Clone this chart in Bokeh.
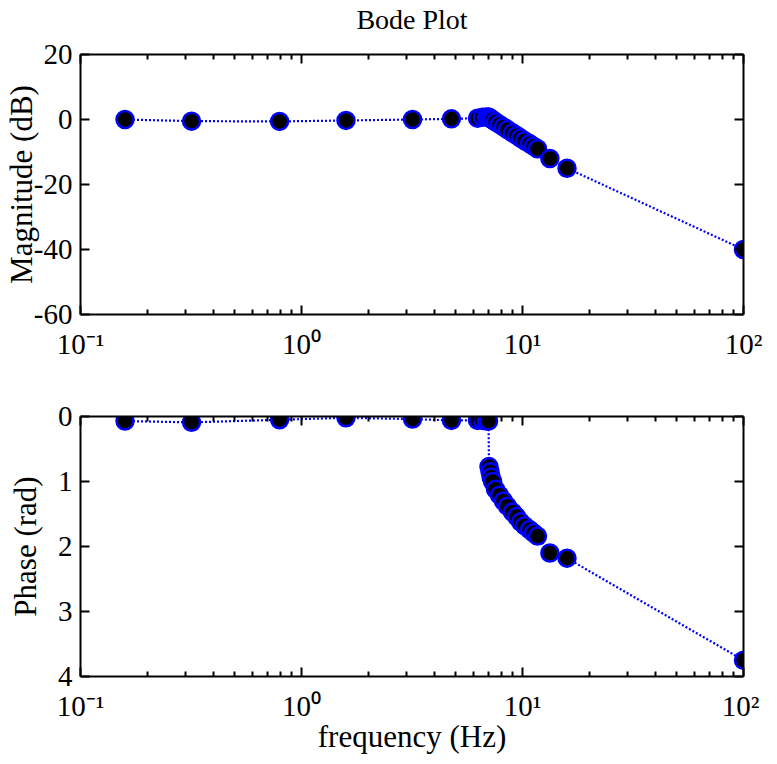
from bokeh.plotting import figure
from bokeh.layouts import column
from bokeh.models import (LogAxis, LinearAxis, FixedTicker, CustomJSTickFormatter,
                          Range1d)
from bokeh.embed import file_html
from bokeh.resources import INLINE

# ---- data ----
freq_hz = [0.159, 0.318, 0.796, 1.59, 3.18, 4.77,
           6.26, 6.59, 6.87, 7.02,
           7.05, 7.13, 7.21, 7.32, 7.55, 7.87, 8.20, 8.55, 9.01, 9.40,
           9.79, 10.21, 10.76, 11.21, 11.69,
           13.3, 15.9, 100.0]
magnitude_db = [0.0, -0.5, -0.6, -0.3, 0.0, 0.2,
                0.4, 0.7, 0.8, 0.8,
                0.6, 0.4, 0.2, -0.1, -0.7, -1.5, -2.3, -3.1, -4.1, -4.9,
                -5.7, -6.5, -7.4, -8.2, -9.0,
                -12.0, -15.0, -40.0]
phase_rad = [0.07, 0.09, 0.05, 0.02, 0.04, 0.06,
             0.06, 0.06, 0.07, 0.07,
             0.77, 0.85, 0.93, 1.00, 1.12, 1.21, 1.30, 1.38, 1.47, 1.54,
             1.62, 1.68, 1.74, 1.79, 1.84,
             2.10, 2.18, 3.75]

x_major = [0.1, 1, 10, 100]
mag_ticks = [20, 0, -20, -40, -60]
phase_ticks = [0, 1, 2, 3, 4]

FONT = "Liberation Serif"
BLUE = "#0000ff"
FS_TICK = "29px"
FS_LABEL = "31px"
FRAME_W, FRAME_H = 663, 260

x_minor = [m * d for d in (0.1, 1, 10) for m in range(2, 10)]
log_fmt = CustomJSTickFormatter(code="""
const e = Math.round(Math.log10(tick));
if (e === -1) return "10\u207b\u00b9";
if (e === 0) return "10\u2070";
if (e === 1) return "10\u00b9";
if (e === 2) return "10\u00b2";
return "10";
""")
int_fmt = CustomJSTickFormatter(code="return tick.toFixed(0);")


def style_axis(ax, labels=True):
    ax.axis_line_width = 2
    ax.axis_line_color = "black"
    ax.major_tick_in = 9
    ax.major_tick_out = 0
    ax.minor_tick_in = 5
    ax.minor_tick_out = 0
    ax.major_tick_line_width = 2
    ax.minor_tick_line_width = 2
    ax.major_tick_line_color = "black"
    ax.minor_tick_line_color = "black"
    ax.major_label_text_font = FONT
    ax.major_label_text_color = "black"
    ax.axis_label_text_font = FONT
    ax.axis_label_text_font_style = "normal"
    ax.axis_label_text_color = "black"
    ax.axis_label_text_font_size = FS_LABEL
    if labels:
        ax.major_label_text_font_size = FS_TICK
    else:
        ax.major_label_text_font_size = "1px"
        ax.major_label_text_alpha = 0
        ax.major_label_standoff = 0


def make_fig(y, yrange, yticks, ylabel, xlabel=None, title=None,
             top_border=40, bottom_border=60, ylabel_standoff=0):
    p = figure(x_axis_type="log", x_range=(0.1, 100), y_range=yrange,
               frame_width=FRAME_W, frame_height=FRAME_H,
               min_border_left=73, min_border_right=20,
               min_border_top=top_border, min_border_bottom=bottom_border,
               output_backend="svg", toolbar_location=None,
               background_fill_color="white", border_fill_color="white")
    p.outline_line_color = None
    p.xgrid.visible = False
    p.ygrid.visible = False

    xt = FixedTicker(ticks=x_major, minor_ticks=x_minor)
    yt = FixedTicker(ticks=yticks, minor_ticks=[])

    xa = p.xaxis[0]
    xa.ticker = xt
    xa.formatter = log_fmt
    style_axis(xa)
    xa.major_label_standoff = 13
    if xlabel:
        xa.axis_label = xlabel
        xa.axis_label_standoff = -6

    ya = p.yaxis[0]
    ya.ticker = yt
    ya.formatter = int_fmt
    style_axis(ya)
    ya.major_label_standoff = 8
    ya.axis_label = ylabel
    ya.axis_label_standoff = ylabel_standoff

    top = LogAxis(ticker=xt)
    style_axis(top, labels=False)
    if title:
        # the chart title sits in the top axis' label slot
        top.axis_label = title
        top.axis_label_text_font_size = "28px"
        top.axis_label_standoff = 20
    p.add_layout(top, "above")
    right = LinearAxis(ticker=yt)
    style_axis(right, labels=False)
    p.add_layout(right, "right")

    p.line(freq_hz, y, line_color=BLUE, line_dash="2 2", line_width=2.2)
    p.scatter(freq_hz, y, marker="circle", size=17, fill_color="black",
              line_color=BLUE, line_width=2.5)
    return p


p1 = make_fig(magnitude_db, Range1d(-60, 20), mag_ticks, "Magnitude (dB)",
              title="Bode Plot", top_border=54, bottom_border=66, ylabel_standoff=-8)
p2 = make_fig(phase_rad, Range1d(4, 0), phase_ticks, "Phase (rad)",
              xlabel="frequency (Hz)", top_border=36, bottom_border=70,
              ylabel_standoff=12)

layout = column(p1, p2, spacing=0)
open("out.html", "w").write(file_html(layout, INLINE))
